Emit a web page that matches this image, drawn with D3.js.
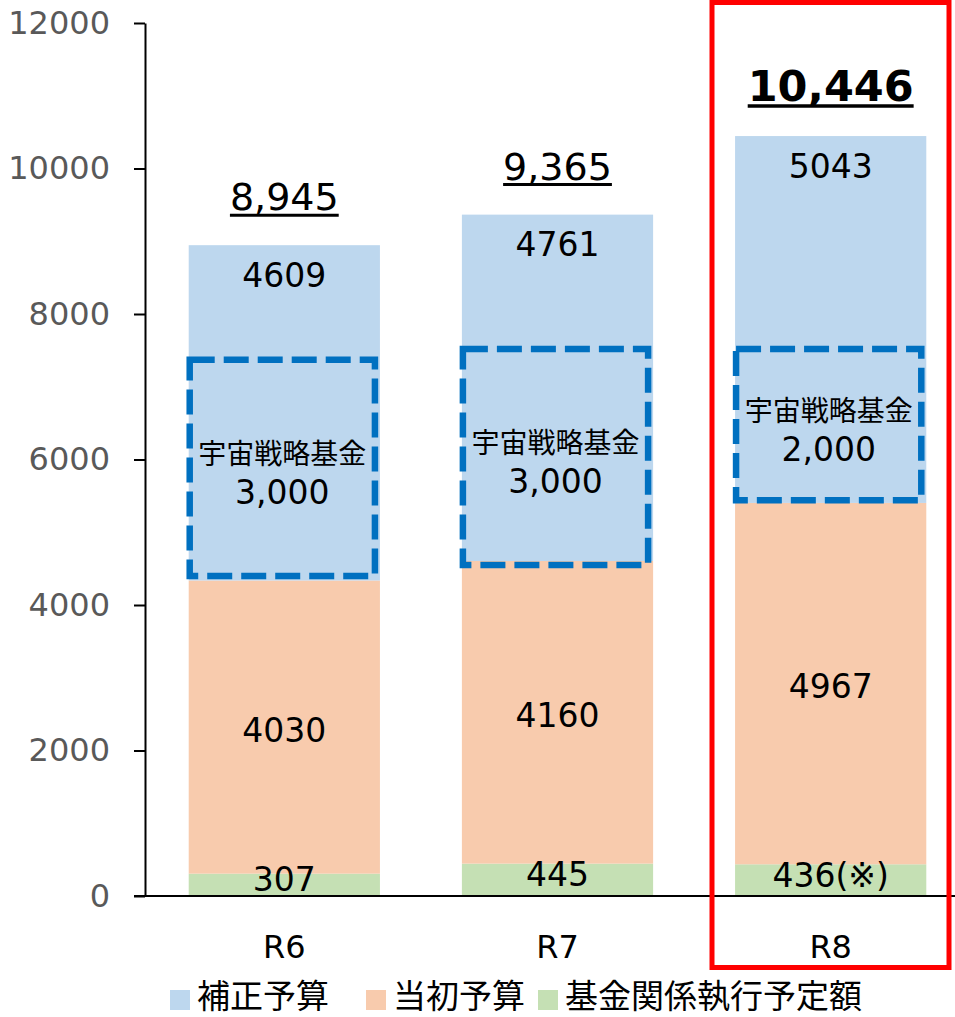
<!DOCTYPE html>
<html>
<head>
<meta charset="utf-8">
<script src="https://cdn.jsdelivr.net/npm/d3@7"></script>
<style>
  body { margin: 0; background: #fff; }
  svg { display: block; font-family: "DejaVu Sans", "Noto Sans CJK JP", sans-serif; }
</style>
</head>
<body>
<div id="chart"></div>
<script>
// data
const categories = ['R6', 'R7', 'R8'];
const fundExec = [307, 445, 436];          // 基金関係執行予定額
const initialBudget = [4030, 4160, 4967];  // 当初予算
const supplementary = [4609, 4761, 5043];  // 補正予算
const execLabels = ['307', '445', '436(※)'];
const totalLabels = ['8,945', '9,365', '10,446'];
const fundName = '宇宙戦略基金';
const fundLabels = ['3,000', '3,000', '2,000'];
const fundBoxLow = [4400, 4550, 5440];
const fundBoxHigh = [7370, 7520, 7520];
const yTicks = [0, 2000, 4000, 6000, 8000, 10000, 12000];
const seriesKeys = ['exec', 'initial', 'supp'];
const legendNames = ['補正予算', '当初予算', '基金関係執行予定額'];

const colors = {exec: '#C5E0B4', initial: '#F8CBAD', supp: '#BDD7EE'};

const W = 955, H = 1017;

const rows = categories.map((c, i) => ({
	cat: c,
	exec: fundExec[i],
	initial: initialBudget[i],
	supp: supplementary[i]
}));

const svg = d3.select('#chart').append('svg')
	.attr('width', W)
	.attr('height', H);

const x = d3.scaleBand()
	.domain(categories)
	.range([145, 970])
	.paddingInner(0.3)
	.paddingOuter(0.16);

const y = d3.scaleLinear()
	.domain([0, 12000])
	.range([896, 23]);

const stacked = d3.stack().keys(seriesKeys)(rows);

//bars
svg.append('g').attr('class', 'bars')
	.selectAll('g')
	.data(stacked)
	.join('g')
	.attr('fill', d => colors[d.key])
	.selectAll('rect')
	.data(d => d)
	.join('rect')
	.attr('x', d => x(d.data.cat))
	.attr('y', d => y(d[1]))
	.attr('width', x.bandwidth())
	.attr('height', d => y(d[0]) - y(d[1]));

//y axis
const yAxis = svg.append('g')
	.attr('transform', 'translate(145,0)')
	.call(d3.axisLeft(y).tickValues(yTicks).tickSize(11).tickSizeOuter(0).tickPadding(24).tickFormat(d3.format('d')));
yAxis.select('.domain').attr('stroke', '#000').attr('stroke-width', 2);
yAxis.selectAll('.tick line').attr('stroke', '#000').attr('stroke-width', 2);
yAxis.selectAll('.tick text')
	.attr('fill', '#595959')
	.style('font-size', '32px')
	.style('font-family', '"DejaVu Sans", sans-serif');

//x axis line
svg.append('line')
	.attr('x1', 134).attr('x2', W)
	.attr('y1', y(0)).attr('y2', y(0))
	.attr('stroke', '#000')
	.attr('stroke-width', 2);

const xAxis = svg.append('g')
	.attr('transform', `translate(0,${y(0)})`)
	.call(d3.axisBottom(x).tickSize(0).tickPadding(39));
xAxis.select('.domain').remove();
xAxis.selectAll('.tick text')
	.attr('fill', '#000')
	.style('font-size', '32px')
	.style('font-family', '"DejaVu Sans", sans-serif');

//segment labels
const labels = svg.append('g').attr('class', 'labels')
	.attr('text-anchor', 'middle')
	.style('font-size', '33px')
	.attr('fill', '#000');

rows.forEach((r, i) => {
	const cx = x(r.cat) + x.bandwidth() / 2;
	const total = r.exec + r.initial + r.supp;

	labels.append('text')
		.attr('x', cx)
		.attr('y', (y(0) + y(r.exec)) / 2 - 5)
		.attr('dominant-baseline', 'central')
		.text(execLabels[i]);

	labels.append('text')
		.attr('x', cx)
		.attr('y', (y(r.exec) + y(r.exec + r.initial)) / 2 + 3)
		.attr('dominant-baseline', 'central')
		.text(r.initial);

	labels.append('text')
		.attr('x', cx)
		.attr('y', y(total) + 30)
		.attr('dominant-baseline', 'central')
		.text(r.supp);
});

//fund dashed boxes
const boxes = svg.append('g').attr('class', 'fund');
rows.forEach((r, i) => {
	const bx = x(r.cat);
	const top = y(fundBoxHigh[i]);
	const bot = y(fundBoxLow[i]);
	boxes.append('rect')
		.attr('x', bx + 1)
		.attr('y', top)
		.attr('width', x.bandwidth() - 6)
		.attr('height', bot - top)
		.attr('fill', 'none')
		.attr('stroke', '#0070C0')
		.attr('stroke-width', 6.5)
		.attr('stroke-dasharray', '25,9');

	const mid = (top + bot) / 2;
	boxes.append('text')
		.attr('x', bx + x.bandwidth() / 2 - 2)
		.attr('y', mid - 4)
		.attr('text-anchor', 'middle')
		.style('font-family', '"Noto Sans CJK JP", sans-serif')
		.style('font-size', '28px')
		.text(fundName);
	boxes.append('text')
		.attr('x', bx + x.bandwidth() / 2 - 2)
		.attr('y', mid + 36)
		.attr('text-anchor', 'middle')
		.style('font-size', '33px')
		.text(fundLabels[i]);
});

//totals (underlined)
const totalsG = svg.append('g').attr('class', 'totals');
rows.forEach((r, i) => {
	const cx = x(r.cat) + x.bandwidth() / 2;
	const total = r.exec + r.initial + r.supp;
	const isLast = i === rows.length - 1;
	const baseY = y(total) - 35;
	const t = totalsG.append('text')
		.attr('x', cx)
		.attr('y', baseY)
		.attr('text-anchor', 'middle')
		.style('font-size', isLast ? '43px' : '38px')
		.style('font-weight', isLast ? 'bold' : 'normal')
		.text(totalLabels[i]);
	const len = t.node().getComputedTextLength();
	totalsG.append('line')
		.attr('x1', cx - len / 2).attr('x2', cx + len / 2)
		.attr('y1', baseY + 5).attr('y2', baseY + 5)
		.attr('stroke', '#000')
		.attr('stroke-width', isLast ? 3.5 : 3);
});

//red highlight on R8
svg.append('rect')
	.attr('x', 712)
	.attr('y', 2.5)
	.attr('width', 237)
	.attr('height', 965)
	.attr('fill', 'none')
	.attr('stroke', '#FF0000')
	.attr('stroke-width', 5);

//legend
const legendX = [170, 366, 538];
const legendKeys = ['supp', 'initial', 'exec'];
const legend = svg.append('g').attr('class', 'legend');
legendKeys.forEach((k, i) => {
	legend.append('rect')
		.attr('x', legendX[i])
		.attr('y', 990)
		.attr('width', 20)
		.attr('height', 20)
		.attr('fill', colors[k]);
	legend.append('text')
		.attr('x', legendX[i] + 27)
		.attr('y', 1008)
		.style('font-family', '"Noto Sans CJK JP", sans-serif')
		.style('font-size', '33px')
		.text(legendNames[i]);
});
</script>
</body>
</html>
